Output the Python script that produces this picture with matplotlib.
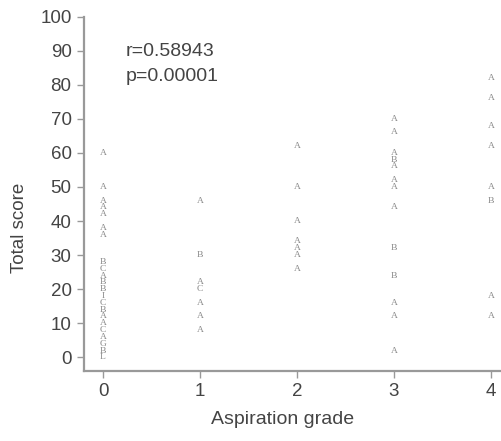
import matplotlib
matplotlib.use("Agg")
import matplotlib.pyplot as plt

# aspiration grade of each plotted mark, its total score and the SAS-style
# count letter (A = 1 obs, B = 2 obs, ...)
grade0_scores = [60, 50, 46, 44, 42, 38, 36, 28, 26, 24, 22, 20, 18, 16, 14, 12, 10, 8, 6, 4, 2, 0]
grade0_marks = ['A', 'A', 'A', 'A', 'A', 'A', 'A', 'B', 'C', 'A', 'B', 'B', 'I', 'C', 'B', 'A', 'A', 'C', 'A', 'G', 'B', 'L']

grade1_scores = [46, 30, 22, 20, 16, 12, 8]
grade1_marks = ['A', 'B', 'A', 'C', 'A', 'A', 'A']

grade2_scores = [62, 50, 40, 34, 32, 30, 26]
grade2_marks = ['A', 'A', 'A', 'A', 'A', 'A', 'A']

grade3_scores = [70, 66, 60, 58, 56, 52, 50, 44, 32, 24, 16, 12, 2]
grade3_marks = ['A', 'A', 'A', 'B', 'A', 'A', 'A', 'A', 'B', 'B', 'A', 'A', 'A']

grade4_scores = [82, 76, 68, 62, 50, 46, 18, 12]
grade4_marks = ['A', 'A', 'A', 'A', 'A', 'B', 'A', 'A']

grades = [0, 1, 2, 3, 4]
scores = [grade0_scores, grade1_scores, grade2_scores, grade3_scores, grade4_scores]
marks = [grade0_marks, grade1_marks, grade2_marks, grade3_marks, grade4_marks]

r_text = "r=0.58943"
p_text = "p=0.00001"

plt.rcParams['font.family'] = ['Liberation Sans', 'DejaVu Sans']

fig = plt.figure(figsize=(5.01, 4.41), dpi=100)
ax = fig.add_axes([84 / 501, 1 - 370.7 / 441, 417 / 501, (370.7 - 16.5) / 441])

for g, ys, ms in zip(grades, scores, marks):
    for y, m in zip(ys, ms):
        ax.text(g, y, m, ha='center', va='center', fontsize=6.8,
                family='Liberation Serif', color='#8a8a8a')

ax.text(0.237, 89.6, r_text, va='center', ha='left', fontsize=14, color='#444444')
ax.text(0.237, 82.5, p_text, va='center', ha='left', fontsize=14, color='#444444')

ax.set_xlim(-0.196, 4.103)
ax.set_ylim(-3.9, 100)
ax.set_xticks(grades)
ax.set_yticks(range(0, 101, 10))

for s in ['top', 'right']:
    ax.spines[s].set_visible(False)
for s in ['left', 'bottom']:
    ax.spines[s].set_color('#999999')
    ax.spines[s].set_linewidth(1.6)

ax.tick_params(axis='both', direction='out', length=5, width=1, color='#999999',
               labelsize=13.5, labelcolor='#444444', pad=4)

ax.set_xlabel("Aspiration grade", fontsize=14, color='#444444')
ax.set_ylabel("Total score", fontsize=13.5, color='#444444')
ax.xaxis.set_label_coords(0.475, -0.113)
ax.yaxis.set_label_coords(-0.135, 0.403)

fig.savefig("out.png", dpi=100)
